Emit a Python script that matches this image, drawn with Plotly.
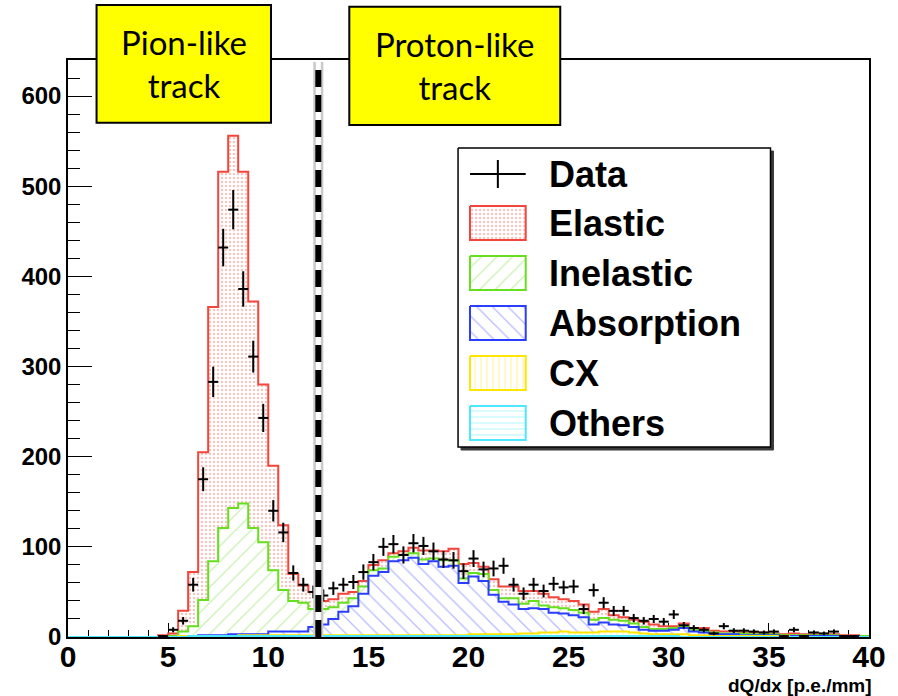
import numpy as np
import plotly.graph_objects as go

# ---- binning: 80 bins of 0.5 p.e./mm between 0 and 40 ----
bin_width = 0.5
x_min, x_max = 0.0, 40.0

# ---- MC components per bin (events) ----
elastic = [
    0, 0, 0, 0, 0, 0, 0, 0, 0, 2,
    3, 23, 60, 164, 282, 395, 413, 368, 251, 175,
    116, 72, 30, 19, 19, 9, 9, 10, 7, 6,
    6, 9, 4, 4, 6, 10, 9, 10, 13, 16,
    11, 8, 12, 13, 13, 14, 11, 13, 11, 10,
    10, 9, 9, 10, 5, 4, 4, 6, 5, 3,
    2, 3, 2, 3, 2, 2, 2, 1, 2, 2,
    1, 1, 2, 1, 1, 1, 1, 1, 1, 0,
]
inelastic = [
    0, 0, 0, 0, 0, 0, 0, 0, 0, 0,
    1, 5, 11, 39, 82, 119, 140, 145, 118, 102,
    68, 46, 34, 32, 20, 17, 13, 10, 9, 8,
    6, 4, 5, 6, 5, 5, 3, 7, 6, 5,
    4, 8, 5, 4, 7, 6, 8, 4, 6, 6,
    6, 5, 5, 5, 5, 5, 4, 3, 2, 2,
    2, 2, 2, 2, 2, 1, 1, 2, 1, 1,
    1, 1, 1, 1, 1, 1, 1, 0, 0, 1,
]
absorption = [
    0, 0, 0, 0, 0, 0, 0, 0, 0, 0,
    0, 0, 0, 1, 1, 1, 2, 1, 1, 1,
    4, 4, 4, 4, 9, 12, 18, 26, 32, 46,
    66, 70, 82, 83, 86, 79, 82, 76, 77, 58,
    64, 59, 44, 36, 33, 27, 28, 26, 22, 20,
    19, 17, 9, 10, 8, 7, 6, 4, 4, 4,
    5, 7, 4, 3, 2, 2, 2, 1, 1, 1,
    1, 0, 1, 1, 1, 1, 1, 1, 1, 0,
]
cx = [
    0, 0, 0, 0, 0, 0, 0, 0, 0, 0,
    0, 1, 0, 0, 0, 0, 0, 1, 1, 1,
    1, 1, 1, 1, 1, 1, 1, 1, 1, 1,
    1, 1, 1, 1, 1, 1, 1, 1, 1, 1,
    2, 2, 2, 2, 2, 3, 3, 4, 4, 5,
    4, 4, 4, 5, 5, 5, 4, 3, 2, 2,
    2, 3, 2, 2, 1, 1, 1, 1, 1, 1,
    1, 1, 0, 0, 0, 0, 0, 0, 0, 0,
]
others = [
    0, 0, 0, 0, 0, 0, 0, 0, 0, 0,
    0, 0, 1, 1, 1, 1, 1, 1, 1, 1,
    1, 1, 1, 1, 1, 1, 1, 1, 1, 1,
    1, 1, 1, 1, 1, 1, 1, 1, 1, 1,
    1, 1, 1, 1, 1, 1, 1, 1, 1, 1,
    1, 1, 1, 1, 1, 1, 1, 1, 1, 1,
    1, 0, 0, 0, 0, 0, 0, 0, 0, 0,
    0, 0, 0, 0, 0, 0, 0, 0, 0, 0,
]

# ---- measured counts per bin ----
data_counts = [
    0, 0, 0, 0, 0, 0, 0, 0, 0, 1,
    8, 18, 58, 175, 283, 432, 474, 386, 311, 243,
    140, 116, 71, 58, 50, 46, 54, 58, 61, 72,
    83, 100, 103, 91, 104, 101, 95, 86, 85, 73,
    87, 75, 76, 79, 58, 48, 58, 51, 59, 55,
    56, 31, 52, 38, 29, 29, 21, 18, 20, 17,
    25, 13, 10, 8, 4, 12, 7, 7, 6, 5,
    6, 1, 8, 1, 5, 4, 6, 1, 1, 0,
]

cut_value = 12.5  # dQ/dx separation between pion-like and proton-like tracks

# ---- styles (bottom of stack first) ----
names = ["Others", "CX", "Absorption", "Inelastic", "Elastic"]
components = [others, cx, absorption, inelastic, elastic]
line_colors = ["#4ce8ff", "#ffe600", "#2b3dff", "#66e01e", "#f2463c"]
pattern_fg = ["#6ff0ff", "#ffe833", "#6f72ff", "#8fe35e", "#f3857d"]
pattern_shape = ["-", "|", "\\", "/", "."]
pattern_size = [6, 6, 11, 11, 4]
pattern_solid = [0.18, 0.18, 0.11, 0.11, 0.28]

BOLD = dict(family="Liberation Sans", color="black", weight="bold")

# plot frame in pixels
W, H = 898, 696
L, R, T, B = 68, 873, 60, 637


def px_x(px):
    return (px - L) / (R - L)


def px_y(py):
    return (B - py) / (B - T)


edges = np.arange(x_min, x_max + bin_width / 2, bin_width)
centers = edges[:-1] + bin_width / 2
stack = np.cumsum(np.array(components, dtype=float), axis=0)

fig = go.Figure()

# stacked histograms: draw the total first so lower layers sit on top of it
for i in reversed(range(len(components))):
    vals = stack[i]
    fig.add_trace(go.Scatter(
        x=edges, y=np.append(vals, vals[-1]),
        mode="lines", line=dict(shape="hv", color=line_colors[i], width=2),
        fill="tozeroy", fillcolor="white",
        fillpattern=dict(shape=pattern_shape[i], fgcolor=pattern_fg[i],
                         bgcolor="white", size=pattern_size[i],
                         solidity=pattern_solid[i]),
        showlegend=False, hoverinfo="skip",
    ))

# data points with Poisson errors
counts = np.array(data_counts, dtype=float)
mask = counts > 0
fig.add_trace(go.Scatter(
    x=centers[mask], y=counts[mask], mode="markers",
    marker=dict(size=2, color="black"),
    error_y=dict(type="data", array=np.sqrt(counts[mask]), width=0,
                 thickness=2, color="black"),
    error_x=dict(type="constant", value=bin_width / 2, width=0,
                 thickness=2, color="black"),
    showlegend=False,
))

# ---- hand-drawn legend box on its own pixel-scaled axes ----
LX0, LY0, LX1, LY1 = 460, 148, 774, 447


def rect(x0, y0, x1, y1):
    return [x0, x1, x1, x0, x0], [y0, y0, y1, y1, y0]


sx, sy = rect(LX0 + 3, LY0 + 3, LX1 + 3, LY1 + 3)
fig.add_trace(go.Scatter(x=sx, y=sy, xaxis="x2", yaxis="y2", mode="lines",
                         fill="toself", fillcolor="#3a3a3a",
                         line=dict(color="#3a3a3a", width=1),
                         showlegend=False, hoverinfo="skip"))
bx, by = rect(LX0, LY0, LX1, LY1)
fig.add_trace(go.Scatter(x=bx, y=by, xaxis="x2", yaxis="y2", mode="lines",
                         fill="toself", fillcolor="white",
                         line=dict(color="black", width=1.5),
                         showlegend=False, hoverinfo="skip"))

row_y = [174, 223, 273, 323, 373, 423]
sw_x0, sw_x1 = 472, 528
# data marker: a cross
cxm = (sw_x0 + sw_x1) / 2
fig.add_trace(go.Scatter(
    x=[sw_x0, sw_x1, None, cxm, cxm],
    y=[row_y[0], row_y[0], None, row_y[0] - 14, row_y[0] + 14],
    xaxis="x2", yaxis="y2", mode="lines",
    line=dict(color="black", width=2), showlegend=False, hoverinfo="skip"))

legend_order = ["Elastic", "Inelastic", "Absorption", "CX", "Others"]
for k, name in enumerate(legend_order):
    i = names.index(name)
    cy = row_y[k + 1]
    rx, ry = rect(sw_x0, cy - 17, sw_x1, cy + 17)
    fig.add_trace(go.Scatter(
        x=rx, y=ry, xaxis="x2", yaxis="y2", mode="lines",
        fill="toself", fillcolor="white",
        fillpattern=dict(shape=pattern_shape[i], fgcolor=pattern_fg[i],
                         bgcolor="white", size=pattern_size[i],
                         solidity=pattern_solid[i]),
        line=dict(color=line_colors[i], width=2),
        showlegend=False, hoverinfo="skip"))

annotations = []
for k, label in enumerate(["Data"] + legend_order):
    annotations.append(dict(
        xref="x2", yref="y2", x=549, y=row_y[k], text=label,
        xanchor="left", yanchor="middle", showarrow=False,
        font=dict(BOLD, size=36)))

# axis title, right-aligned under the axis
annotations.append(dict(
    xref="paper", yref="paper", x=px_x(878), y=px_y(685),
    text="dQ/dx [p.e./mm]",
    xanchor="right", yanchor="middle", showarrow=False,
    font=dict(BOLD, size=19)))

# track-type labels in yellow boxes
boxes = [
    ((96.7, 5.0, 272.0, 122.7), "Pion-like<br>track"),
    ((350.7, 6.7, 562.7, 125.0), "Proton-like<br>track"),
]
shapes = []
# dashed separation line with a soft halo
for width, color, dash in [(10, "#c9c9c9", "solid"), (5, "white", "solid"),
                           (6, "black", "17px,8px")]:
    shapes.append(dict(type="line", xref="x", yref="paper",
                       x0=cut_value, x1=cut_value, y0=0, y1=px_y(62),
                       line=dict(color=color, width=width, dash=dash),
                       layer="above"))
for (x0, y0, x1, y1), text in boxes:
    shapes.append(dict(type="rect", xref="paper", yref="paper",
                       x0=px_x(x0), x1=px_x(x1), y0=px_y(y1), y1=px_y(y0),
                       fillcolor="#ffff00", line=dict(color="black", width=2),
                       layer="above"))
    annotations.append(dict(
        xref="paper", yref="paper", x=px_x((x0 + x1) / 2),
        y=px_y((y0 + y1) / 2), text=text, showarrow=False,
        xanchor="center", yanchor="middle",
        font=dict(family="Lato", size=33, color="black")))

fig.update_layout(
    width=W, height=H,
    margin=dict(l=L, r=W - R, t=T, b=H - B, pad=0),
    paper_bgcolor="white", plot_bgcolor="white",
    showlegend=False,
    xaxis=dict(range=[x_min, x_max], dtick=5, tick0=0,
               ticks="inside", ticklen=14, tickwidth=1, tickcolor="black",
               minor=dict(ticks="inside", dtick=1, ticklen=7,
                          tickcolor="black", tickwidth=1),
               showline=True, linecolor="black", linewidth=1.5, mirror=True,
               showgrid=False, zeroline=False, layer="below traces",
               ticklabelstandoff=-8,
               tickfont=dict(BOLD, size=30)),
    yaxis=dict(range=[0, 640], dtick=100, tick0=0,
               ticks="inside", ticklen=24, tickwidth=1, tickcolor="black",
               minor=dict(ticks="inside", dtick=20, ticklen=12,
                          tickcolor="black", tickwidth=1),
               showline=True, linecolor="black", linewidth=1.5, mirror=True,
               showgrid=False, zeroline=False, layer="below traces",
               tickfont=dict(BOLD, size=24)),
    xaxis2=dict(domain=[px_x(456), px_x(782)], range=[456, 782],
                anchor="y2", visible=False, fixedrange=True),
    yaxis2=dict(domain=[px_y(455), px_y(144)], range=[455, 144],
                anchor="x2", visible=False, fixedrange=True),
    shapes=shapes,
    annotations=annotations,
)

fig.write_html("out.html")
